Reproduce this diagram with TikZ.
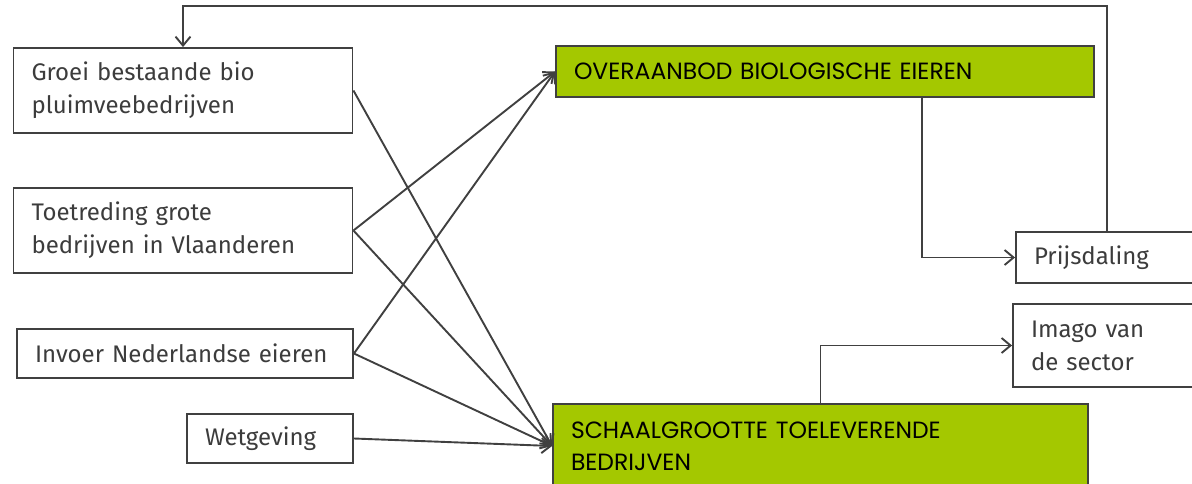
\documentclass[tikz,border=0pt]{standalone}
\usepackage{fontspec}
\setmainfont{Fira Sans}
\newfontfamily\capsfont{Poppins}
\usetikzlibrary{arrows.meta}
\definecolor{linegray}{RGB}{64,64,64}
\definecolor{textgray}{RGB}{60,60,60}
\definecolor{biogreen}{RGB}{164,200,0}
\tikzset{
  factor/.style={draw=linegray, line width=1.9pt, inner xsep=18pt, inner ysep=0pt,
    align=left, text=textgray, font=\fontsize{24}{33}\selectfont},
  effect/.style={factor, fill=biogreen, text=black, font=\capsfont\fontsize{23.5}{32}\selectfont},
  arr/.style={draw=linegray, line width=1.9pt, -{Straight Barb[length=9pt,width=15pt,line width=1.9pt]}},
}
\begin{document}
\begin{tikzpicture}[x=1pt, y=-1pt]
  \useasboundingbox (0,0) rectangle (1192,483);
  \clip (0,0) rectangle (1192,483);
  % oorzaken
  \node[factor, text width=303pt, minimum height=85pt] (groei) at (183,90.5) {Groei bestaande bio\\pluimveebedrijven};
  \node[factor, text width=303pt, minimum height=85pt] (toetr) at (183,230.5) {Toetreding grote\\bedrijven in Vlaanderen};
  \node[factor, text width=300pt, minimum height=49pt] (invoer) at (185,353.5) {Invoer Nederlandse eieren};
  \node[factor, text width=130pt, minimum height=49pt] (wet) at (270,438.5) {Wetgeving};
  % gevolgen
  \node[effect, text width=502pt, minimum height=51pt] (over) at (825,71.5) {OVERAANBOD BIOLOGISCHE EIEREN};
  \node[effect, text width=499pt, minimum height=84pt] (schaal) at (820.5,446) {SCHAALGROOTTE TOELEVERENDE\\BEDRIJVEN};
  \node[factor, text width=146pt, minimum height=51pt] (prijs) at (1107,257.5) {Prijsdaling};
  \node[factor, text width=151pt, minimum height=83pt] (imago) at (1106.5,345.5) {Imago van\\de sector};
  % verbanden
  \draw[arr] (groei.east) -- (schaal.west);
  \draw[arr] (toetr.east) -- (over.west);
  \draw[arr] (toetr.east) -- (schaal.west);
  \draw[arr] (invoer.east) -- (over.west);
  \draw[arr] (invoer.east) -- (schaal.west);
  \draw[arr] (wet.east) -- (schaal.west);
  \draw[arr] ([xshift=97pt]over.south) |- (prijs.west);
  \draw[arr] (schaal.north) |- (imago.west);
  \draw[arr] (prijs.north) -- ++(0,-225) -| (groei.north);
\end{tikzpicture}
\end{document}
